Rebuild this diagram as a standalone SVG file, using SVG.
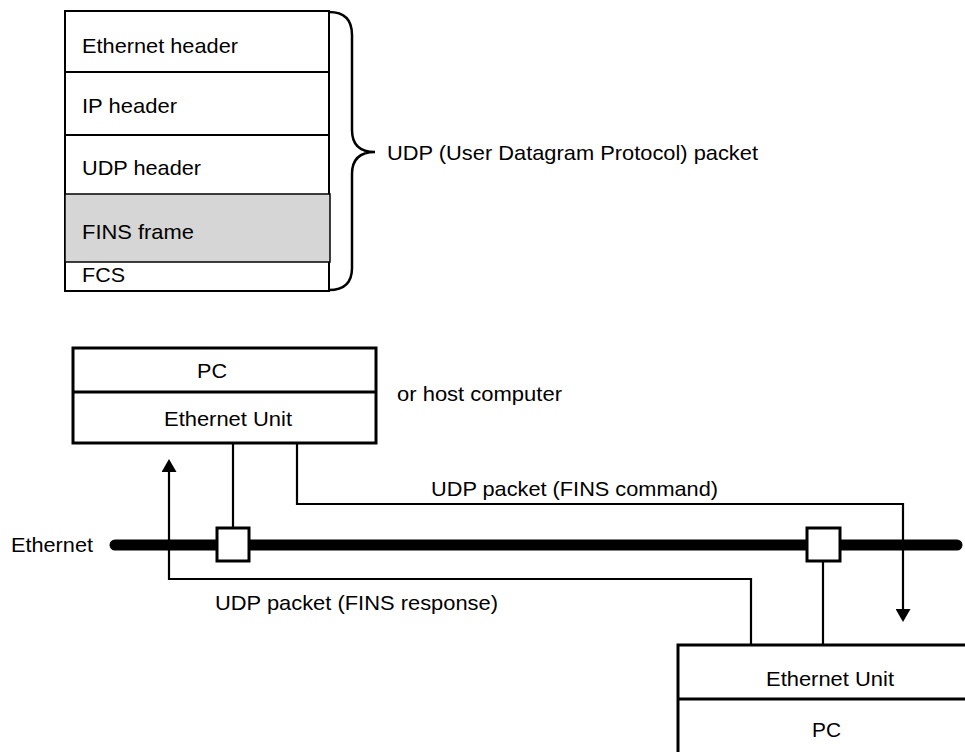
<svg xmlns="http://www.w3.org/2000/svg" width="965" height="752" viewBox="0 0 965 752">
<style>
text{font-family:"Liberation Sans",Arial,sans-serif;font-size:21px;fill:#000}
.box{fill:#fff;stroke:#000;stroke-width:3}
.thin{fill:none;stroke:#000;stroke-width:2}
.wire{fill:none;stroke:#000;stroke-width:2.2}
</style>
<defs>
<marker id="arr" viewBox="0 0 13 15" markerWidth="13" markerHeight="15" refX="8" refY="7.5" orient="auto" markerUnits="userSpaceOnUse">
<path d="M0,0 L13,7.5 L0,15 z" fill="#000"/>
</marker>
</defs>
<g id="packet">
<rect x="65" y="11" width="264" height="280" fill="#fff" stroke="#000" stroke-width="2"/>
<rect x="65" y="194" width="265" height="68" fill="#d6d6d6" stroke="#000" stroke-width="1.5"/>
<line x1="65" y1="72" x2="329" y2="72" class="thin"/>
<line x1="65" y1="135" x2="329" y2="135" class="thin"/>
<text x="82" y="53" textLength="156" lengthAdjust="spacingAndGlyphs">Ethernet header</text>
<text x="82" y="113" textLength="95" lengthAdjust="spacingAndGlyphs">IP header</text>
<text x="82" y="175" textLength="119" lengthAdjust="spacingAndGlyphs">UDP header</text>
<text x="82" y="239" textLength="112" lengthAdjust="spacingAndGlyphs">FINS frame</text>
<text x="82" y="282" textLength="43" lengthAdjust="spacingAndGlyphs">FCS</text>
</g>
<g id="brace">
<path d="M329,12 Q352,12 352,35 V130 Q352,152 375,152 Q352,152 352,174 V268 Q352,290 329,290" fill="none" stroke="#000" stroke-width="2.5"/>
<text x="387" y="160" textLength="371" lengthAdjust="spacingAndGlyphs">UDP (User Datagram Protocol) packet</text>
</g>
<g id="connectors">
<line x1="115" y1="545" x2="957" y2="545" stroke="#000" stroke-width="11" stroke-linecap="round"/>
<line x1="233" y1="443" x2="233" y2="528" class="wire"/>
<line x1="823" y1="561" x2="823" y2="645" class="wire"/>
<path d="M297,443 V504 H903 V617" class="wire" marker-end="url(#arr)"/>
<path d="M751,645 V579 H169 V464" class="wire" marker-end="url(#arr)"/>
<text x="431" y="496" textLength="287" lengthAdjust="spacingAndGlyphs">UDP packet (FINS command)</text>
<text x="215" y="610" textLength="283" lengthAdjust="spacingAndGlyphs">UDP packet (FINS response)</text>
<text x="11" y="552" textLength="82" lengthAdjust="spacingAndGlyphs">Ethernet</text>
</g>
<g id="tap1"><rect x="217" y="528" width="32" height="33" class="box"/></g>
<g id="tap2"><rect x="807" y="528" width="33" height="33" class="box"/></g>
<g id="node-top">
<rect x="73" y="348" width="303" height="95" class="box"/>
<line x1="73" y1="392" x2="376" y2="392" stroke="#000" stroke-width="3"/>
<text x="197" y="378" textLength="30" lengthAdjust="spacingAndGlyphs">PC</text>
<text x="164" y="426" textLength="128" lengthAdjust="spacingAndGlyphs">Ethernet Unit</text>
<text x="397" y="401" textLength="165" lengthAdjust="spacingAndGlyphs">or host computer</text>
</g>
<g id="node-bottom">
<rect x="678" y="645" width="320" height="140" class="box"/>
<line x1="678" y1="699" x2="965" y2="699" stroke="#000" stroke-width="3"/>
<text x="766" y="686" textLength="128" lengthAdjust="spacingAndGlyphs">Ethernet Unit</text>
<text x="812" y="737" textLength="29" lengthAdjust="spacingAndGlyphs">PC</text>
</g>
</svg>
